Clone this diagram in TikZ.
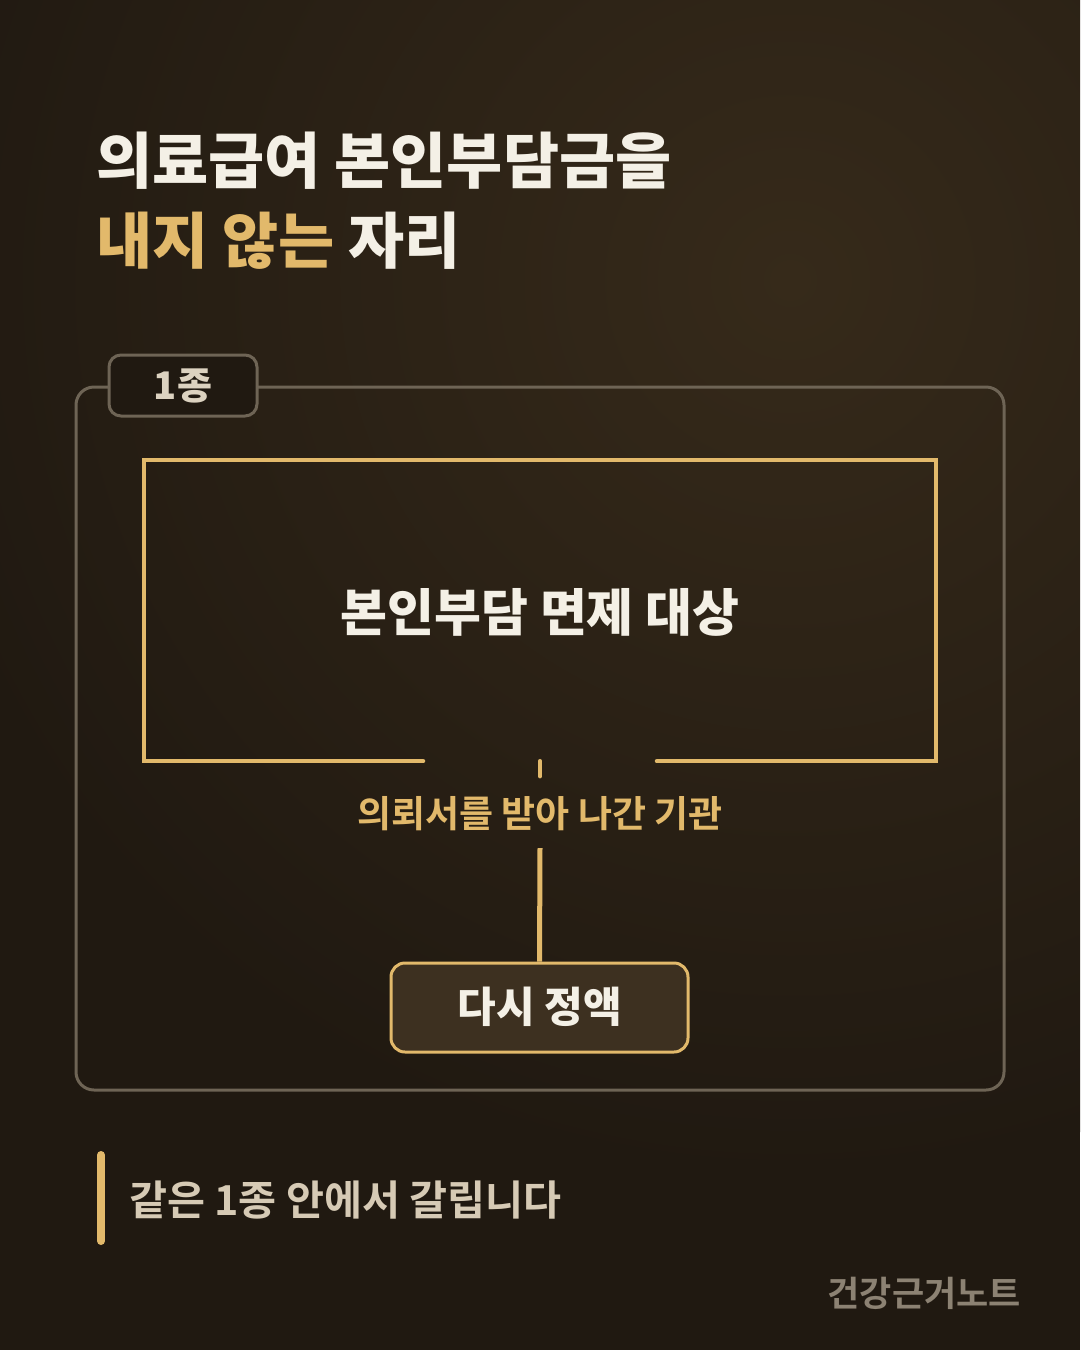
\documentclass[tikz,border=0pt]{standalone}
\usepackage{fontspec}
\setmainfont{Noto Sans CJK KR}[BoldFont={Noto Sans CJK KR Bold}]
\newfontfamily\krblack{Noto Sans CJK KR Black}
\usetikzlibrary{calc}
\definecolor{bg}{HTML}{201911}
\definecolor{glow}{HTML}{362A1A}
\definecolor{gold}{HTML}{E2B96B}
\definecolor{cream}{HTML}{F4F0E6}
\definecolor{frame}{HTML}{6E6455}
\definecolor{tagtext}{HTML}{DCD2C0}
\definecolor{btnfill}{HTML}{3D3020}
\definecolor{subtext}{HTML}{D6CAB5}
\definecolor{foot}{HTML}{8C8273}
\tikzset{
  txt/.style={inner sep=0pt, font=\bfseries},
  goldline/.style={draw=gold, line width=4.5pt, line cap=round},
}
\begin{document}
\begin{tikzpicture}[x=1pt,y=-1pt]
\useasboundingbox (0,0) rectangle (1080,1350);
\fill[bg] (0,0) rectangle (1080,1350);
\begin{scope}
\clip (0,0) rectangle (1080,1350);
\shade[inner color=glow, outer color=bg] (790,280) circle (900);
\end{scope}
% title
\node[txt, anchor=base west, text=cream, font=\krblack\fontsize{61}{70}\selectfont] (t1) at (96,183) {의료급여 본인부담금을};
\node[txt, anchor=base west, font=\krblack\fontsize{61}{70}\selectfont] (t2) at (96,263) {\textcolor{gold}{내지 않는} \textcolor{cream}{자리}};
% outer frame
\draw[frame, line width=3pt, rounded corners=18pt] (76,387) rectangle (1004,1090);
\node[draw=frame, fill=bg, line width=3pt, rounded corners=12pt, minimum width=148pt, minimum height=61pt, inner sep=0pt] (tag) at (183,385.5) {};
\node[txt, text=tagtext, font=\krblack\fontsize{38}{42}\selectfont] (tagt) at (183,386) {1종};
% inner box
\node[minimum width=792pt, minimum height=301pt, inner sep=0pt] (main) at (540,610.5) {};
\node[txt, text=cream, font=\krblack\fontsize{51}{56}\selectfont] (maint) at (540,612) {본인부담 면제 대상};
\draw[goldline, line cap=round, line join=miter] ($(main.south)+(-117,0)$) -- (main.south west) -- (main.north west) -- (main.north east) -- (main.south east) -- ($(main.south)+(117,0)$);
\draw[goldline] (main.south) -- ++(0,15);
% label
\node[txt, text=gold, font=\bfseries\fontsize{37}{40}\selectfont, minimum height=68pt] (lab) at (540,814) {의뢰서를 받아 나간 기관};
% button
\node[draw=gold, fill=btnfill, line width=3pt, rounded corners=14pt, minimum width=297pt, minimum height=89pt, inner sep=0pt] (btn) at (539.5,1007.5) {};
\node[txt, text=cream, font=\krblack\fontsize{42}{46}\selectfont] (btnt) at (540,1007) {다시 정액};
\draw[goldline, line width=5pt, line cap=butt] (lab.south) -- (btn.north);
% bottom note
\draw[gold, line width=8pt, line cap=round] (101,1155) -- (101,1241);
\node[txt, anchor=west, text=subtext, font=\bfseries\fontsize{41.3}{46}\selectfont] (note) at (129,1200) {같은 1종 안에서 갈립니다};
% footer
\node[txt, anchor=east, text=foot, font=\bfseries\fontsize{35}{38}\selectfont] (foot) at (1021,1293) {건강근거노트};
\end{tikzpicture}
\end{document}
